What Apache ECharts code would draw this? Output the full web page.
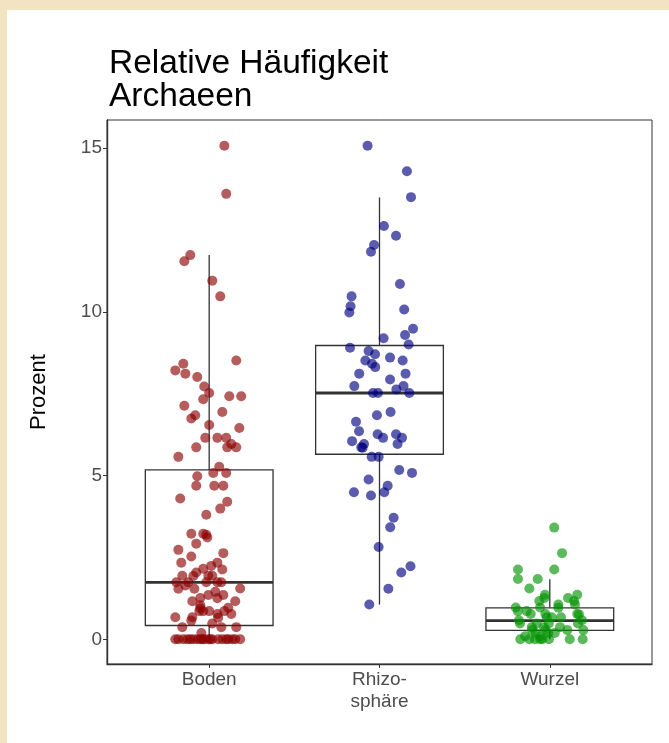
<!DOCTYPE html>
<html>
<head>
<meta charset="utf-8">
<script src="https://cdn.jsdelivr.net/npm/echarts@6/dist/echarts.min.js"></script>
<style>
  html, body { margin: 0; padding: 0; background: #f2e4c1; }
  #panel { position: absolute; left: 7px; top: 10px; width: 662px; height: 733px; background: #ffffff; }
  #chart { position: absolute; left: 0; top: 0; width: 669px; height: 743px; }
</style>
</head>
<body>
<div id="panel"></div>
<div id="chart"></div>
<script>
// ---- data ----
const categories = ['Boden', 'Rhizo-\nsphäre', 'Wurzel'];
const yTicks = [0, 5, 10, 15];

// box statistics: [lower whisker, Q1, median, Q3, upper whisker]
const bodenBox  = [0, 0.42, 1.74, 5.17, 11.73];
const rhizoBox  = [1.06, 5.65, 7.52, 8.97, 13.49];
const wurzelBox = [0, 0.27, 0.57, 0.96, 1.83];

// jittered observations (values in %, jitter in category units)
const bodenValues = [15.07,13.6,11.73,11.54,10.95,10.47,8.51,8.41,8.21,8.11,8.01,7.72,7.52,7.42,7.42,7.33,7.13,6.94,6.84,6.74,6.54,6.45,6.15,6.15,6.15,5.96,5.86,5.86,5.86,5.57,5.27,5.08,5.08,4.98,4.69,4.69,4.69,4.30,4.20,3.99,3.80,3.22,3.22,3.19,3.11,2.92,2.73,2.63,2.53,2.34,2.34,2.24,2.15,2.13,2.04,1.93,1.94,1.94,1.94,1.74,1.74,1.74,1.74,1.74,1.64,1.54,1.54,1.55,1.45,1.35,1.35,1.26,1.25,1.16,1.16,1.04,0.95,0.96,0.86,0.86,0.86,0.86,0.77,0.77,0.66,0.67,0.67,0.57,0.48,0.37,0.37,0.37,0.19,0,0,0,0,0,0,0,0,0,0,0,0,0,0,0,0,0,0,0,0];
const bodenJitter = [0.089,0.10,-0.111,-0.146,0.018,0.065,0.159,-0.152,-0.199,-0.14,-0.07,-0.029,0.0,0.118,0.188,-0.035,-0.146,0.077,-0.082,-0.105,0.0,0.177,-0.023,0.048,0.10,0.13,0.106,0.159,-0.076,-0.181,0.059,0.024,0.10,-0.07,-0.076,0.03,0.083,-0.17,0.106,0.065,-0.017,-0.105,-0.035,-0.017,-0.011,-0.076,-0.181,0.083,-0.105,-0.164,0.048,0.012,-0.035,0.077,-0.076,-0.093,-0.158,-0.005,0.018,-0.193,-0.123,-0.017,0.048,0.071,-0.14,-0.181,-0.087,0.182,0.036,-0.005,0.083,-0.052,0.048,-0.099,0.153,-0.052,-0.052,0.112,0.089,-0.058,-0.035,0.0,0.048,0.13,0.053,-0.199,-0.099,-0.105,0.018,-0.158,0.071,0.159,-0.046,-0.199,-0.181,-0.152,-0.128,-0.111,-0.093,-0.07,-0.052,-0.04,-0.029,-0.005,0.006,0.018,0.053,0.077,0.10,0.112,0.136,0.153,0.182];

const rhizoValues = [15.07,14.29,13.50,12.62,12.32,12.04,11.83,10.85,10.47,10.17,9.98,10.07,9.48,9.29,9.19,9.00,8.90,8.80,8.70,8.60,8.51,8.51,8.41,8.31,8.11,8.11,7.93,7.73,7.73,7.63,7.52,7.52,7.52,6.94,6.84,6.64,6.35,6.26,6.26,6.15,6.15,6.05,5.96,5.96,5.86,5.85,5.57,5.57,5.17,5.08,4.88,4.69,4.49,4.39,4.49,3.71,3.42,2.82,2.23,2.04,1.54,1.06];
const rhizoJitter = [-0.07,0.161,0.185,0.026,0.097,-0.032,-0.05,0.12,-0.164,-0.17,-0.177,0.145,0.197,0.15,0.024,0.171,-0.173,-0.064,-0.026,0.062,0.136,-0.083,-0.044,-0.025,-0.119,0.153,0.062,-0.148,0.141,0.099,-0.038,-0.009,0.175,0.065,-0.015,-0.138,-0.12,-0.011,0.097,0.021,0.132,-0.161,-0.091,0.106,-0.107,-0.099,-0.046,-0.005,0.116,0.191,-0.064,0.048,-0.15,-0.05,0.028,0.083,0.063,-0.005,0.182,0.128,0.052,-0.06];

const wurzelValues = [3.41,2.63,2.13,2.13,1.84,1.84,1.55,1.36,1.36,1.26,1.26,1.17,1.17,1.06,1.06,0.97,0.97,0.96,0.86,0.86,0.77,0.77,0.77,0.76,0.67,0.67,0.67,0.58,0.58,0.48,0.48,0.48,0.48,0.37,0.37,0.37,0.28,0.28,0.28,0.28,0.19,0.19,0.19,0.09,0.09,0,0,0,0,0,0,0,0];
const wurzelJitter = [0.026,0.072,-0.187,0.026,-0.187,-0.071,-0.12,-0.028,0.161,0.107,-0.032,-0.062,0.142,0.148,0.05,-0.057,-0.2,0.05,-0.188,-0.136,-0.112,-0.026,0.161,0.171,0.011,-0.018,0.066,-0.181,0.189,-0.175,-0.077,-0.006,0.165,-0.106,-0.034,0.06,0.103,0.197,-0.026,-0.104,0.029,-0.083,-0.009,-0.145,-0.057,-0.173,-0.12,-0.087,-0.057,-0.044,-0.005,0.117,0.193];

// ---- build ----
function pts(pos, vals, jit) {
  return vals.map((v, i) => [pos + jit[i], v]);
}
const boxes = [bodenBox, rhizoBox, wurzelBox].map((b, i) => [i + 1].concat(b));

const chart = echarts.init(document.getElementById('chart'), null, { renderer: 'canvas' });
const font = 'Liberation Sans, Arial, Helvetica, sans-serif';
const lineCol = '#333333';

chart.setOption({
  backgroundColor: 'transparent',
  animation: false,
  title: {
    text: 'Relative Häufigkeit\nArchaeen',
    left: 104, top: 42,
    textStyle: { fontFamily: font, fontSize: 33.5, fontWeight: 'normal', color: '#000', lineHeight: 33 }
  },
  grid: {
    left: 107, top: 120, right: 17, bottom: 79,
    show: true, borderColor: lineCol, borderWidth: 1, backgroundColor: 'transparent'
  },
  xAxis: {
    type: 'value', min: 0.4, max: 3.6,
    splitLine: { show: false },
    axisLine: { show: true, onZero: false, lineStyle: { color: lineCol, width: 1.4 } },
    axisTick: { show: true, length: 4, customValues: [1, 2, 3], lineStyle: { color: lineCol } },
    axisLabel: {
      customValues: [1, 2, 3],
      formatter: v => categories[Math.round(v) - 1] || '',
      fontFamily: font, fontSize: 19, color: '#4d4d4d', margin: 5, lineHeight: 22
    }
  },
  yAxis: {
    type: 'value', min: -0.755, max: 15.855,
    name: 'Prozent', nameLocation: 'middle', nameGap: 57, nameRotate: 90,
    nameTextStyle: { fontFamily: font, fontSize: 22, color: '#000' },
    splitLine: { show: false },
    axisLine: { show: true, onZero: false, lineStyle: { color: lineCol, width: 1.4 } },
    axisTick: { show: true, length: 4, customValues: yTicks, lineStyle: { color: lineCol } },
    axisLabel: {
      customValues: yTicks,
      fontFamily: font, fontSize: 19, color: '#4d4d4d', margin: 5
    }
  },
  series: [
    {
      type: 'custom',
      data: boxes,
      z: 1,
      renderItem: function (params, api) {
        const x = api.value(0);
        const lo = api.coord([x, api.value(1)]);
        const q1 = api.coord([x, api.value(2)]);
        const md = api.coord([x, api.value(3)]);
        const q3 = api.coord([x, api.value(4)]);
        const hi = api.coord([x, api.value(5)]);
        const w = api.size([0.75, 0])[0];
        const cx = q1[0];
        const st = { stroke: lineCol, lineWidth: 1.3, fill: null };
        return {
          type: 'group',
          children: [
            { type: 'line', shape: { x1: cx, y1: hi[1], x2: cx, y2: q3[1] }, style: st },
            { type: 'line', shape: { x1: cx, y1: q1[1], x2: cx, y2: lo[1] }, style: st },
            { type: 'rect', shape: { x: cx - w / 2, y: q3[1], width: w, height: q1[1] - q3[1] },
              style: { stroke: lineCol, lineWidth: 1.3, fill: '#fff' } },
            { type: 'line', shape: { x1: cx - w / 2, y1: md[1], x2: cx + w / 2, y2: md[1] },
              style: { stroke: lineCol, lineWidth: 2.8 } }
          ]
        };
      }
    },
    {
      type: 'scatter', name: 'Boden', data: pts(1, bodenValues, bodenJitter),
      symbolSize: 10, z: 3,
      itemStyle: { color: 'rgba(139,0,0,0.8)' }
    },
    {
      type: 'scatter', name: 'Rhizosphäre', data: pts(2, rhizoValues, rhizoJitter),
      symbolSize: 10, z: 3,
      itemStyle: { color: 'rgba(0,0,128,0.8)' }
    },
    {
      type: 'scatter', name: 'Wurzel', data: pts(3, wurzelValues, wurzelJitter),
      symbolSize: 10, z: 3,
      itemStyle: { color: 'rgba(0,145,0,0.8)' }
    }
  ]
});
</script>
</body>
</html>
